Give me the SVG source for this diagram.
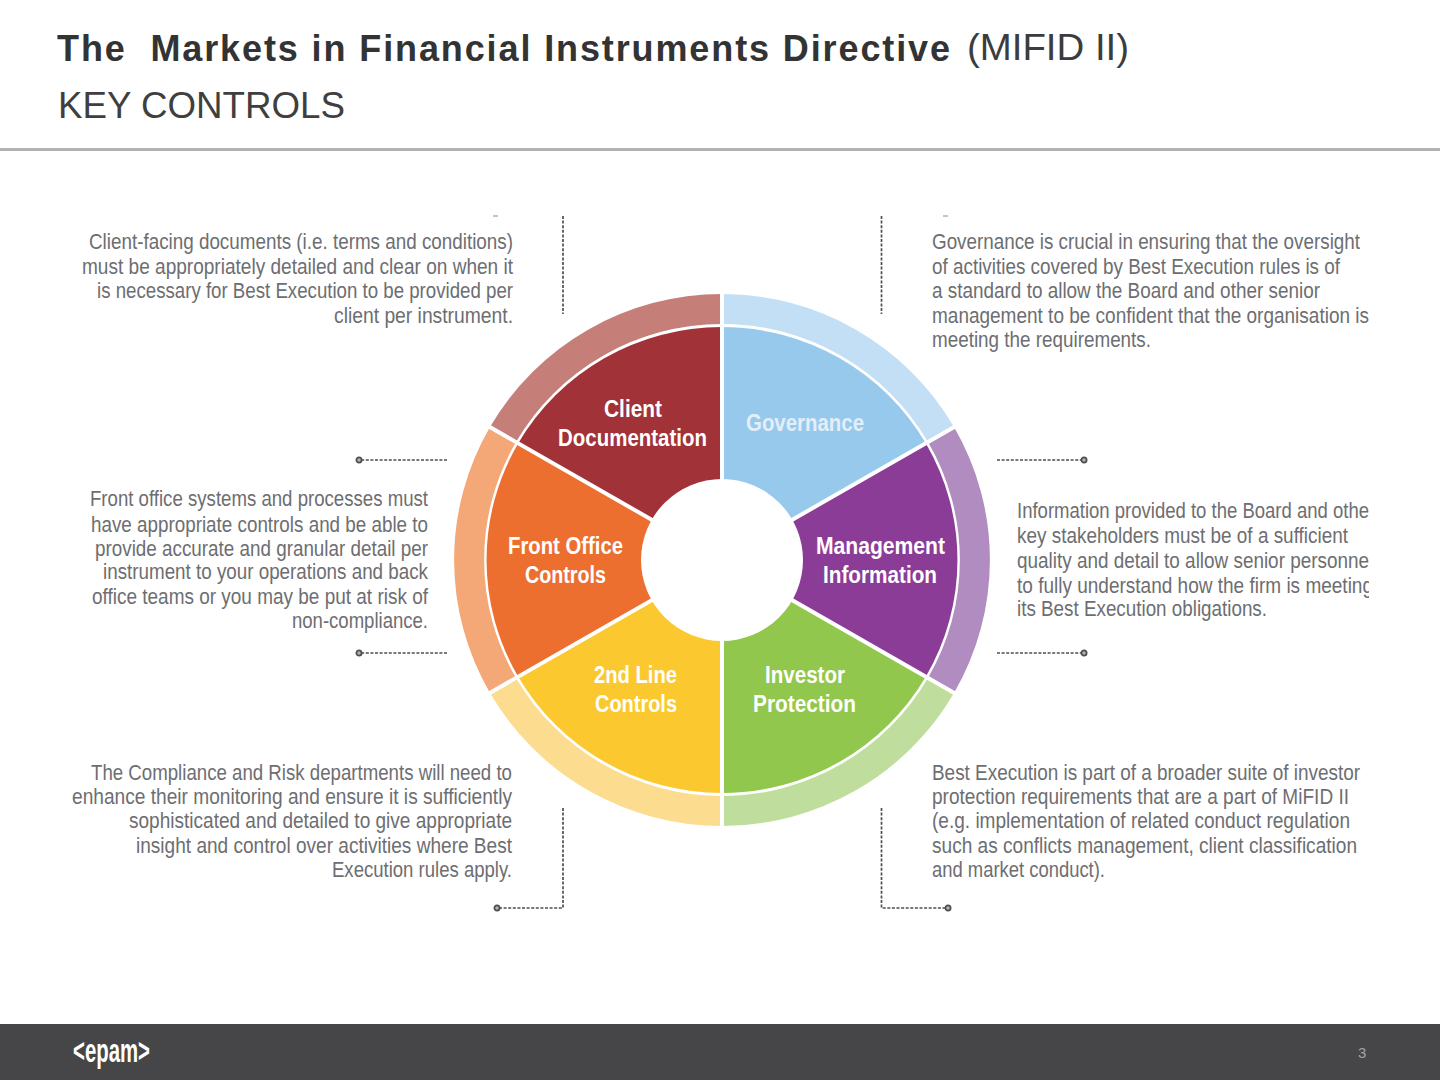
<svg xmlns="http://www.w3.org/2000/svg" width="1440" height="1080" viewBox="0 0 1440 1080">
<style>
text{font-family:"Liberation Sans",Arial,sans-serif}
.h{font-size:36px;white-space:pre}
.b{font-size:22px;fill:#6d6e71}
.l{font-size:23px;font-weight:bold;fill:#fff}
.lg{fill:#e3eef8}
.c{fill:none;stroke:#4f4f51;stroke-width:1.7;stroke-dasharray:3 1.6}
.sp{stroke:#fff;stroke-width:4;fill:none}
</style>
<defs>
<marker id="dot" viewBox="0 0 8 8" refX="4" refY="4" markerWidth="8" markerHeight="8" markerUnits="userSpaceOnUse"><circle cx="4" cy="4" r="2.6" fill="#b5b5b5" stroke="#4f4f51" stroke-width="1.8"/></marker>
<clipPath id="cut"><rect x="1000" y="490" width="369" height="140"/></clipPath>
</defs>
<rect width="1440" height="1080" fill="#fff"/>
<g id="header">
<text class="h" x="57" y="61" fill="#333" font-weight="bold" textLength="893" lengthAdjust="spacing">The  Markets in Financial Instruments Directive</text>
<text class="h" x="967" y="60" fill="#3c3c3c" textLength="162" lengthAdjust="spacingAndGlyphs">(MIFID II)</text>
<text class="h" x="58" y="118" fill="#3f3f3f" textLength="287" lengthAdjust="spacingAndGlyphs">KEY CONTROLS</text>
<rect x="0" y="148" width="1440" height="3" fill="#b2b2b2"/>
</g>
<g id="connectors">
<path class="c" d="M563 216V314"/>
<path class="c" d="M881.500 216V314"/>
<path class="c" d="M447 460H359" marker-end="url(#dot)"/>
<path class="c" d="M447 653H359" marker-end="url(#dot)"/>
<path class="c" d="M997 460H1084" marker-end="url(#dot)"/>
<path class="c" d="M997 653H1084" marker-end="url(#dot)"/>
<path class="c" d="M563 808V908H497" marker-end="url(#dot)"/>
<path class="c" d="M881.500 808V908H948" marker-end="url(#dot)"/>
<path d="M493 216H498M943 216H948" stroke="#8a8a8a" stroke-width="1" fill="none"/>
</g>
<g id="governance">
<path d="M722 294A268 266 0 0 1 954 427L928 442A238 236 0 0 0 722 324Z" fill="#c3dff5"/>
<path d="M722 560V327A235.500 233 0 0 1 925.900 443.500Z" fill="#97c9ed"/>
<text class="l lg" x="746" y="431" textLength="118" lengthAdjust="spacingAndGlyphs">Governance</text>
</g>
<g id="management-information">
<path d="M954 427A268 266 0 0 1 954 693L928 678A238 236 0 0 0 928 442Z" fill="#b08cc0"/>
<path d="M722 560L925.900 443.500A235.500 233 0 0 1 925.900 676.500Z" fill="#8a3c96"/>
<text class="l" x="816" y="554" textLength="129" lengthAdjust="spacingAndGlyphs">Management</text>
<text class="l" x="823" y="583" textLength="114" lengthAdjust="spacingAndGlyphs">Information</text>
</g>
<g id="investor-protection">
<path d="M954 693A268 266 0 0 1 722 826V796A238 236 0 0 0 928 678Z" fill="#bfdd9c"/>
<path d="M722 560L925.900 676.500A235.500 233 0 0 1 722 793Z" fill="#92c74d"/>
<text class="l" x="765" y="683" textLength="80" lengthAdjust="spacingAndGlyphs">Investor</text>
<text class="l" x="753" y="712" textLength="103" lengthAdjust="spacingAndGlyphs">Protection</text>
</g>
<g id="second-line-controls">
<path d="M722 826A268 266 0 0 1 490 693L516 678A238 236 0 0 0 722 796Z" fill="#fcdc8e"/>
<path d="M722 560V793A235.500 233 0 0 1 518.100 676.500Z" fill="#fbc92f"/>
<text class="l" x="594" y="683" textLength="83" lengthAdjust="spacingAndGlyphs">2nd Line</text>
<text class="l" x="595" y="712" textLength="82" lengthAdjust="spacingAndGlyphs">Controls</text>
</g>
<g id="front-office-controls">
<path d="M490 693A268 266 0 0 1 490 427L516 442A238 236 0 0 0 516 678Z" fill="#f4a878"/>
<path d="M722 560L518.100 676.500A235.500 233 0 0 1 518.100 443.500Z" fill="#ec6f30"/>
<text class="l" x="508" y="554" textLength="115" lengthAdjust="spacingAndGlyphs">Front Office</text>
<text class="l" x="525" y="583" textLength="81" lengthAdjust="spacingAndGlyphs">Controls</text>
</g>
<g id="client-documentation">
<path d="M490 427A268 266 0 0 1 722 294V324A238 236 0 0 0 516 442Z" fill="#c57f78"/>
<path d="M722 560L518.100 443.500A235.500 233 0 0 1 722 327Z" fill="#a03238"/>
<text class="l" x="604" y="417" textLength="58" lengthAdjust="spacingAndGlyphs">Client</text>
<text class="l" x="558" y="446" textLength="149" lengthAdjust="spacingAndGlyphs">Documentation</text>
</g>
<g id="wheel-gaps">
<path class="sp" d="M722 290V830M488 426L956 694M956 426L488 694"/>
<circle cx="722" cy="560" r="81" fill="#fff"/>
</g>
<g id="text-client">
<text class="b" x="89" y="249" textLength="424" lengthAdjust="spacingAndGlyphs">Client-facing documents (i.e. terms and conditions)</text>
<text class="b" x="82" y="274" textLength="431" lengthAdjust="spacingAndGlyphs">must be appropriately detailed and clear on when it</text>
<text class="b" x="97" y="298" textLength="416" lengthAdjust="spacingAndGlyphs">is necessary for Best Execution to be provided per</text>
<text class="b" x="334" y="323" textLength="179" lengthAdjust="spacingAndGlyphs">client per instrument.</text>
</g>
<g id="text-governance">
<text class="b" x="932" y="249" textLength="428" lengthAdjust="spacingAndGlyphs">Governance is crucial in ensuring that the oversight</text>
<text class="b" x="932" y="274" textLength="408" lengthAdjust="spacingAndGlyphs">of activities covered by Best Execution rules is of</text>
<text class="b" x="932" y="298" textLength="388" lengthAdjust="spacingAndGlyphs">a standard to allow the Board and other senior</text>
<text class="b" x="932" y="323" textLength="437" lengthAdjust="spacingAndGlyphs">management to be confident that the organisation is</text>
<text class="b" x="932" y="347" textLength="219" lengthAdjust="spacingAndGlyphs">meeting the requirements.</text>
</g>
<g id="text-front">
<text class="b" x="90" y="506" textLength="338" lengthAdjust="spacingAndGlyphs">Front office systems and processes must</text>
<text class="b" x="91" y="532" textLength="337" lengthAdjust="spacingAndGlyphs">have appropriate controls and be able to</text>
<text class="b" x="95" y="556" textLength="333" lengthAdjust="spacingAndGlyphs">provide accurate and granular detail per</text>
<text class="b" x="103" y="579" textLength="325" lengthAdjust="spacingAndGlyphs">instrument to your operations and back</text>
<text class="b" x="92" y="604" textLength="336" lengthAdjust="spacingAndGlyphs">office teams or you may be put at risk of</text>
<text class="b" x="292" y="628" textLength="136" lengthAdjust="spacingAndGlyphs">non-compliance.</text>
</g>
<g id="text-information" clip-path="url(#cut)">
<text class="b" x="1017" y="518" textLength="352" lengthAdjust="spacingAndGlyphs">Information provided to the Board and othe</text>
<text class="b" x="1017" y="543" textLength="331" lengthAdjust="spacingAndGlyphs">key stakeholders must be of a sufficient</text>
<text class="b" x="1017" y="568" textLength="352" lengthAdjust="spacingAndGlyphs">quality and detail to allow senior personne</text>
<text class="b" x="1017" y="593" textLength="356" lengthAdjust="spacingAndGlyphs">to fully understand how the firm is meeting</text>
<text class="b" x="1017" y="616" textLength="250" lengthAdjust="spacingAndGlyphs">its Best Execution obligations.</text>
</g>
<g id="text-compliance">
<text class="b" x="91" y="780" textLength="421" lengthAdjust="spacingAndGlyphs">The Compliance and Risk departments will need to</text>
<text class="b" x="72" y="804" textLength="440" lengthAdjust="spacingAndGlyphs">enhance their monitoring and ensure it is sufficiently</text>
<text class="b" x="129" y="828" textLength="383" lengthAdjust="spacingAndGlyphs">sophisticated and detailed to give appropriate</text>
<text class="b" x="136" y="853" textLength="376" lengthAdjust="spacingAndGlyphs">insight and control over activities where Best</text>
<text class="b" x="332" y="877" textLength="180" lengthAdjust="spacingAndGlyphs">Execution rules apply.</text>
</g>
<g id="text-investor">
<text class="b" x="932" y="780" textLength="428" lengthAdjust="spacingAndGlyphs">Best Execution is part of a broader suite of investor</text>
<text class="b" x="932" y="804" textLength="417" lengthAdjust="spacingAndGlyphs">protection requirements that are a part of MiFID II</text>
<text class="b" x="932" y="828" textLength="418" lengthAdjust="spacingAndGlyphs">(e.g. implementation of related conduct regulation</text>
<text class="b" x="932" y="853" textLength="425" lengthAdjust="spacingAndGlyphs">such as conflicts management, client classification</text>
<text class="b" x="932" y="877" textLength="173" lengthAdjust="spacingAndGlyphs">and market conduct).</text>
</g>
<g id="footer">
<rect x="0" y="1024" width="1440" height="56" fill="#464547"/>
<text x="73" y="1062" font-size="34" font-weight="bold" fill="#fff" textLength="77" lengthAdjust="spacingAndGlyphs">&lt;epam&gt;</text>
<text x="1358" y="1058" font-size="15" fill="#a2a2a2">3</text>
</g>
</svg>
